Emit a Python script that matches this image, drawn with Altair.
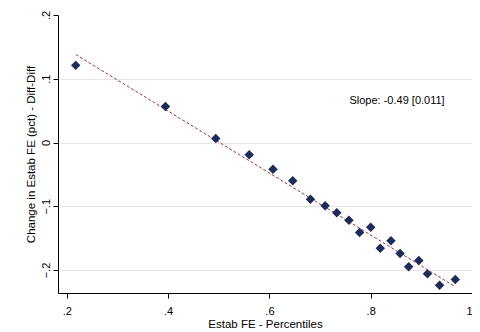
import altair as alt
import pandas as pd

# Binned scatter: establishment FE percentile vs change in FE
x_vals = [0.2175, 0.3947, 0.494, 0.560, 0.607, 0.646, 0.681, 0.710, 0.733, 0.757,
          0.778, 0.800, 0.819, 0.840, 0.858, 0.875, 0.895, 0.912, 0.936, 0.967]
y_vals = [0.121, 0.0565, 0.0063, -0.019, -0.042, -0.060, -0.089, -0.099, -0.110, -0.122,
          -0.141, -0.133, -0.166, -0.154, -0.174, -0.195, -0.185, -0.206, -0.224, -0.215]

fit_intercept = 0.2437
fit_slope = -0.486

annot_text = ["Slope: -0.49 [0.011]"]
annot_x = [0.852]
annot_y = [0.065]

x_ticks = [0.2, 0.4, 0.6, 0.8, 1.0]
y_ticks = [-0.2, -0.1, 0.0, 0.1, 0.2]

FONT = "Liberation Sans"
NAVY = "#1c2b58"
MAROON = "#a0353b"

pts = pd.DataFrame({"x": x_vals, "y": y_vals})
fx = [min(x_vals), max(x_vals)]
fit = pd.DataFrame({"x": fx, "y": [fit_intercept + fit_slope * v for v in fx]})
ann = pd.DataFrame({"x": annot_x, "y": annot_y, "t": annot_text})

lbl = "datum.value == 0 ? '0' : replace(format(datum.value, '~g'), '0.', '.')"

xscale = alt.Scale(domain=[0.1825, 1.0], nice=False, zero=False)
yscale = alt.Scale(domain=[-0.236, 0.2], nice=False, zero=False)

xaxis = alt.Axis(values=x_ticks, labelExpr=lbl, grid=False, title="Estab FE - Percentiles",
                 labelFlush=True, labelOverlap=False,
                 domainColor="black", tickColor="black", tickSize=5, labelFontSize=11,
                 labelFont=FONT, titleFont=FONT, titleFontSize=11.5, titleFontWeight="normal",
                 labelColor="black", titleColor="black", labelPadding=7, titlePadding=2)
yaxis = alt.Axis(values=y_ticks, labelExpr=lbl, grid=True,
                 labelFlush=False, labelOverlap=False,
                 gridColor={"condition": {"test": "datum.value > 0.15", "value": "transparent"},
                            "value": "#e6e6e6"},
                 title="Change in Estab FE (pct) - Diff-Diff",
                 domainColor="black", tickColor="black", tickSize=5, labelFontSize=11,
                 labelAngle=270, labelAlign="center", labelBaseline="bottom",
                 labelFont=FONT, titleFont=FONT, titleFontSize=11.5, titleFontWeight="normal",
                 labelColor="black", titleColor="black", labelPadding=2, titlePadding=4)

line = alt.Chart(fit).mark_line(color=MAROON, strokeDash=[3, 2], strokeWidth=1).encode(
    x=alt.X("x:Q", scale=xscale, axis=xaxis),
    y=alt.Y("y:Q", scale=yscale, axis=yaxis),
)
points = alt.Chart(pts).mark_point(shape="diamond", filled=True, size=90, color=NAVY, opacity=1).encode(
    x=alt.X("x:Q", scale=xscale),
    y=alt.Y("y:Q", scale=yscale),
)
text = alt.Chart(ann).mark_text(font=FONT, fontSize=11, color="black", align="center",
                                baseline="middle").encode(
    x=alt.X("x:Q", scale=xscale),
    y=alt.Y("y:Q", scale=yscale),
    text="t:N",
)

chart = alt.layer(line, points, text).properties(
    width=414, height=278,
    padding={"left": 50, "top": 7, "right": 0, "bottom": 36},
    autosize=alt.AutoSizeParams(type="none"),
    background="white",
).configure_view(strokeWidth=0)

chart.save("out.html", embed_options={"renderer": "svg", "actions": False})
